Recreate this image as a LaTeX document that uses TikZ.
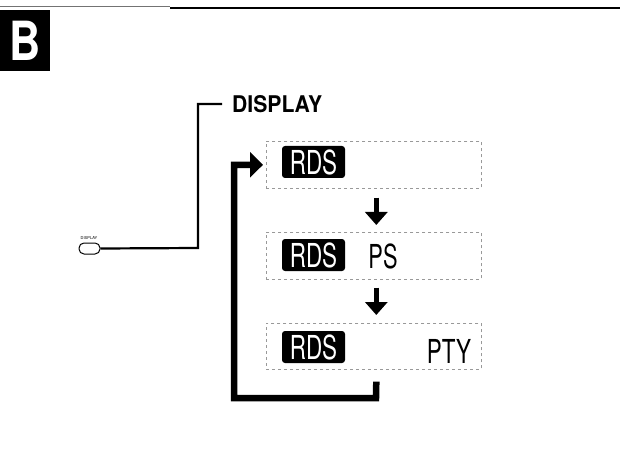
\documentclass[tikz,border=0pt]{standalone}
\usepackage{fontspec}
\newfontfamily\hv{TeX Gyre Heros}
\usetikzlibrary{arrows.meta}
\begin{document}
\begin{tikzpicture}[x=1pt,y=-1pt,
  dbox/.style={draw=black!40, dashed, dash pattern=on 3pt off 3pt, line width=0.6pt,
               minimum width=215pt, minimum height=47pt, anchor=north west, inner sep=0pt},
  rds/.style={fill=black, rounded corners=3pt, minimum width=63pt, minimum height=32pt,
              inner sep=0pt, text=white, font=\hv\fontsize{33}{33}\selectfont},
  plain/.style={inner sep=0pt, font=\hv\fontsize{33}{33}\selectfont},
  step arrow/.style={line width=5pt, -{Triangle[width=22pt,length=13pt]}},
  loop arrow/.style={line width=6.5pt, -{Triangle[width=25pt,length=13pt]}}
]
\useasboundingbox (0,0) rectangle (620,462);
\fill[white] (0,0) rectangle (620,462);

% top rule
\draw[black!55, line width=1pt] (0,7) -- (170,7);
\draw[line width=2.5pt] (170,8) -- (620,8);

% section badge
\node[fill=black, minimum width=50pt, minimum height=61pt, anchor=north west, inner sep=0pt,
      text=white] (badge) at (0,10)
  {\scalebox{0.8}[1]{\hv\bfseries\fontsize{54}{54}\selectfont B}};

% DISPLAY label
\node[anchor=west, inner sep=0pt] (lbl) at (232,104)
  {\scalebox{0.92}[1]{\hv\bfseries\fontsize{23}{23}\selectfont DISPLAY}};

% button
\node[draw, line width=1pt, rounded corners=5pt, minimum width=21pt, minimum height=11pt,
      inner sep=0pt] (btn) at (89.5,248.5) {};
\node[inner sep=0pt, font=\hv\fontsize{4}{4}\selectfont] (btnlbl) at (89,238.5) {DISPLAY};

\coordinate (j1) at (198,248);
\coordinate (j2) at (222,104);
\draw[line width=2.2pt] (btn.east) -- (j1) |- (j2);

% display states
\node[dbox] (d1) at (266,141) {};
\node[dbox] (d2) at (266,232) {};
\node[dbox, minimum height=46pt] (d3) at (266,323) {};

\node[rds] (r1) at (313.5,162) {\scalebox{0.68}[1]{RDS}};
\node[rds] (r2) at (313.5,255) {\scalebox{0.68}[1]{RDS}};
\node[rds] (r3) at (313.5,347) {\scalebox{0.68}[1]{RDS}};

\node[plain] (ps) at (383,256) {\scalebox{0.66}[1]{PS}};
\node[plain] (pty) at (449,351) {\scalebox{0.68}[1]{PTY}};

% arrows between states
\draw[step arrow] ([xshift=2.5pt,yshift=-9pt]d1.south) -- ([xshift=2.5pt,yshift=7pt]d2.north);
\draw[step arrow] ([xshift=2.5pt,yshift=-8pt]d2.south) -- ([xshift=2.5pt,yshift=8pt]d3.north);

% return loop
\coordinate (lb) at (376,398);
\draw[loop arrow] ([xshift=2.5pt,yshift=-12pt]d3.south) -- (lb)
  -| ([xshift=-32pt]d1.west) -- ([xshift=-3pt]d1.west);
\end{tikzpicture}
\end{document}
